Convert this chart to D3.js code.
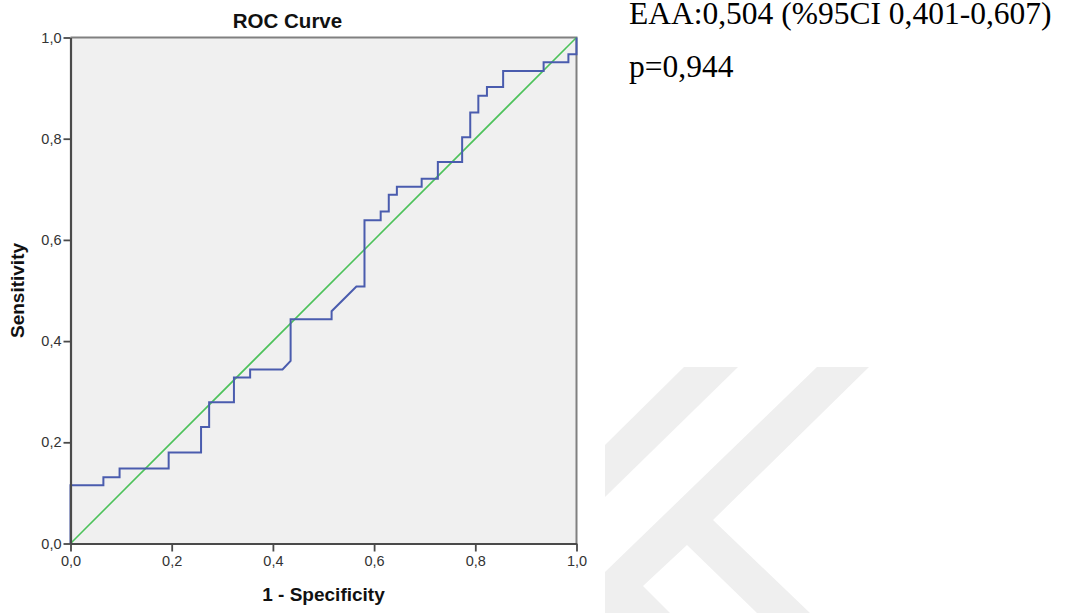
<!DOCTYPE html>
<html>
<head>
<meta charset="utf-8">
<script src="https://cdn.jsdelivr.net/npm/d3@7"></script>
<style>
  body { margin: 0; background: #fff; }
  svg { display: block; }
</style>
</head>
<body>
<div id="chart"></div>
<script>
// ROC curve (1 - specificity, sensitivity)
const fpr = [0, 0, 0.065, 0.065, 0.097, 0.097, 0.194, 0.194, 0.258, 0.258, 0.274, 0.274,
    0.323, 0.323, 0.355, 0.355, 0.419, 0.435, 0.435, 0.516, 0.516, 0.565, 0.581, 0.581,
    0.613, 0.613, 0.629, 0.629, 0.645, 0.645, 0.694, 0.694, 0.726, 0.726, 0.774, 0.774,
    0.790, 0.790, 0.806, 0.806, 0.823, 0.823, 0.855, 0.855, 0.935, 0.935, 0.984, 0.984, 1, 1];
const sensitivity = [0, 0.115, 0.115, 0.131, 0.131, 0.148, 0.148, 0.180, 0.180, 0.230, 0.230, 0.279,
    0.279, 0.328, 0.328, 0.344, 0.344, 0.361, 0.443, 0.443, 0.459, 0.508, 0.508, 0.639,
    0.639, 0.656, 0.656, 0.689, 0.689, 0.705, 0.705, 0.721, 0.721, 0.754, 0.754, 0.803,
    0.803, 0.852, 0.852, 0.885, 0.885, 0.902, 0.902, 0.934, 0.934, 0.951, 0.951, 0.967, 0.967, 1];
const refLine = [[0, 0], [1, 1]];
const tickValues = [0, 0.2, 0.4, 0.6, 0.8, 1.0];
const noteLines = ["EAA:0,504 (%95CI 0,401-0,607)", "p=0,944"];

const width = 1072, height = 613;
const plotLeft = 70.5, plotRight = 576.5, plotTop = 37.5, plotBottom = 543.5;

const svg = d3.select("#chart").append("svg")
    .attr("width", width)
    .attr("height", height);

// faint watermark in the lower right
const wm = svg.append("g").attr("fill", "#efefef");
wm.append("polygon").attr("points", "684,367 738,367 605,497 605,445");
wm.append("polygon").attr("points", "605,572 817,367 869,367 713,520 810,613 757,613 687,545 643,586 670,613 605,613");

const x = d3.scaleLinear().domain([0, 1]).range([plotLeft, plotRight]);
const y = d3.scaleLinear().domain([0, 1]).range([plotBottom, plotTop]);

svg.append("rect")
    .attr("x", plotLeft).attr("y", plotTop)
    .attr("width", plotRight - plotLeft).attr("height", plotBottom - plotTop)
    .attr("fill", "#f0f0f0");

// top and right frame
svg.append("path")
    .attr("d", `M${plotLeft},${plotTop}H${plotRight}V${plotBottom}`)
    .attr("fill", "none")
    .attr("stroke", "#808080")
    .attr("stroke-width", 2);

const fmt = d => d3.format(".1f")(d).replace(".", ",");

// diagonal reference
svg.append("path")
    .datum(refLine)
    .attr("d", d3.line().x(d => x(d[0])).y(d => y(d[1])))
    .attr("fill", "none")
    .attr("stroke", "#4cc25a")
    .attr("stroke-width", 1.6);

// ROC curve
const pts = fpr.map((v, i) => [v, sensitivity[i]]);
svg.append("path")
    .datum(pts)
    .attr("d", d3.line().x(d => x(d[0])).y(d => y(d[1])))
    .attr("fill", "none")
    .attr("stroke", "#4a5cae")
    .attr("stroke-width", 2)
    .attr("stroke-linejoin", "miter");

const yAxis = svg.append("g")
    .attr("transform", `translate(${plotLeft},0)`)
    .call(d3.axisLeft(y).tickValues(tickValues).tickSize(7).tickSizeOuter(0).tickFormat(fmt));

const xAxis = svg.append("g")
    .attr("transform", `translate(0,${plotBottom})`)
    .call(d3.axisBottom(x).tickValues(tickValues).tickSize(8).tickSizeOuter(0).tickFormat(fmt));

[yAxis, xAxis].forEach(g => {
    g.select(".domain").attr("stroke", "#4a4a4a").attr("stroke-width", 2.2);
    g.selectAll(".tick line").attr("stroke", "#4a4a4a").attr("stroke-width", 1.8);
    g.selectAll(".tick text")
        .attr("fill", "#333")
        .style("font", "14.5px 'Liberation Sans', Arial, sans-serif");
});
yAxis.selectAll(".tick text").attr("x", -9);
xAxis.selectAll(".tick text").attr("y", 12);

svg.append("text")
    .attr("x", 287.5).attr("y", 28)
    .attr("text-anchor", "middle")
    .style("font", "bold 20.5px 'Liberation Sans', Arial, sans-serif")
    .attr("fill", "#111")
    .text("ROC Curve");

svg.append("text")
    .attr("x", (plotLeft + plotRight) / 2).attr("y", 601)
    .attr("text-anchor", "middle")
    .style("font", "bold 19px 'Liberation Sans', Arial, sans-serif")
    .attr("fill", "#111")
    .text("1 - Specificity");

svg.append("text")
    .attr("transform", `translate(24,${(plotTop + plotBottom) / 2}) rotate(-90)`)
    .attr("text-anchor", "middle")
    .style("font", "bold 19px 'Liberation Sans', Arial, sans-serif")
    .attr("fill", "#111")
    .text("Sensitivity");

svg.selectAll(".note")
    .data(noteLines)
    .enter().append("text")
    .attr("class", "note")
    .attr("x", 629)
    .attr("y", (d, i) => 23.5 + i * 53)
    .style("font", "31.5px 'Liberation Serif', 'Times New Roman', serif")
    .attr("fill", "#000")
    .text(d => d);
</script>
</body>
</html>
